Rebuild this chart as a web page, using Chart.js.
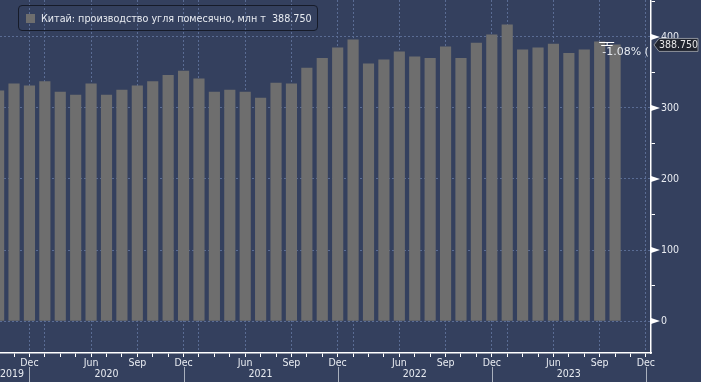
<!DOCTYPE html>
<html><head><meta charset="utf-8">
<script src="https://cdn.jsdelivr.net/npm/chart.js@4"></script>
<style>
html,body{margin:0;padding:0;background:#34405e;overflow:hidden;}
#wrap{position:relative;width:701px;height:382px;}
canvas{display:block;}
#legend{position:absolute;left:18px;top:5px;width:300px;height:26px;border:1px solid #161b29;border-radius:4px;
  font:10.7px "DejaVu Sans Condensed","DejaVu Sans",sans-serif;color:#e8ebf1;display:flex;align-items:center;box-sizing:border-box;white-space:pre;}
#legend .sw{width:9px;height:9px;background:#6e6e6e;margin-left:7px;margin-right:6px;flex:none;}
</style></head>
<body><div id="wrap"><canvas id="c" width="701" height="382"></canvas><div id="legend"><span class="sw"></span><span id="lt"></span></div></div>
<script>
const seriesName = 'Китай: производство угля помесячно, млн т';
const categories = ['Oct 2019','Nov 2019','Dec 2019',
 'Mar 2020','Apr 2020','May 2020','Jun 2020','Jul 2020','Aug 2020','Sep 2020','Oct 2020','Nov 2020','Dec 2020',
 'Mar 2021','Apr 2021','May 2021','Jun 2021','Jul 2021','Aug 2021','Sep 2021','Oct 2021','Nov 2021','Dec 2021',
 'Mar 2022','Apr 2022','May 2022','Jun 2022','Jul 2022','Aug 2022','Sep 2022','Oct 2022','Nov 2022','Dec 2022',
 'Mar 2023','Apr 2023','May 2023','Jun 2023','Jul 2023','Aug 2023','Sep 2023','Oct 2023','Nov 2023','Dec 2023'];
const coalOutput = [324,334,331,
 337,322.5,318,334,318,325,331,337,346,352,
 341,322.5,325,322.5,314,335,334,356,370,384.5,
 396,362,367.6,379,372,370,386,370,391.5,403,
 417,382,384.5,390,377,382,393,388.75];
const yTickValues = [0,50,100,150,200,250,300,350,400,450];
const labeledMonths = ['Jun','Sep','Dec'];
const gridMonths = ['Mar','Jun','Sep','Dec'];

const FONT = '"DejaVu Sans Condensed","DejaVu Sans",sans-serif';
const lastVal = coalOutput[coalOutput.length-1];
const prevVal = coalOutput[coalOutput.length-2];
const pct = (lastVal/prevVal-1)*100;
document.getElementById('lt').textContent = seriesName + '  ' + lastVal.toFixed(3);

const GRID = '#5a6c94';
const month = i => (categories[i]||'').split(' ')[0];

const decor = {
  id:'decor',
  afterDraw(chart){
    const {ctx, chartArea:a, scales:{x,y}} = chart;
    ctx.save();
    ctx.fillStyle = '#ffffff';
    yTickValues.filter(v=>v%100===0).forEach(v=>{
      const py = y.getPixelForValue(v);
      ctx.beginPath(); ctx.moveTo(a.right, py-3); ctx.lineTo(a.right+9, py); ctx.lineTo(a.right, py+3); ctx.closePath(); ctx.fill();
    });
    const decIdx = categories.map((c,i)=>month(i)==='Dec'?i:-1).filter(i=>i>=0);
    ctx.strokeStyle = '#a9b0bd'; ctx.lineWidth = 1;
    decIdx.forEach(i=>{
      const px = Math.round(x.getPixelForValue(i))+0.5;
      ctx.beginPath(); ctx.moveTo(px, 367); ctx.lineTo(px, 382); ctx.stroke();
    });
    ctx.font = '10.5px '+FONT; ctx.fillStyle = '#e8ebf1'; ctx.textBaseline='middle'; ctx.textAlign='center';
    decIdx.forEach((i,k)=>{
      const yr = categories[i].split(' ')[1];
      const r = x.getPixelForValue(i);
      const l = k>0 ? x.getPixelForValue(decIdx[k-1]) : x.getPixelForValue(i-10);
      const w = ctx.measureText(yr).width;
      let cx = (l+r)/2;
      if (cx - w/2 < a.left) cx = a.left + w/2;
      ctx.fillText(yr, cx, 374);
    });
    const n = coalOutput.length;
    const xp = x.getPixelForValue(n-2), yp = y.getPixelForValue(prevVal);
    ctx.strokeStyle = '#ffffff'; ctx.lineWidth = 1;
    ctx.beginPath(); ctx.moveTo(xp-0.5, Math.round(yp)+0.5); ctx.lineTo(xp+14.5, Math.round(yp)+0.5); ctx.stroke();
    ctx.beginPath(); ctx.moveTo(xp+1.5, Math.round(yp)+3.5); ctx.lineTo(xp+13, Math.round(yp)+3.5); ctx.stroke();
    ctx.beginPath(); ctx.moveTo(xp+7.5, Math.round(yp)+0.5); ctx.lineTo(xp+7.5, Math.round(yp)+3.5); ctx.stroke();
    const yl = y.getPixelForValue(lastVal);
    ctx.save();
    ctx.beginPath(); ctx.rect(a.left, a.top, a.right-a.left-1, a.bottom-a.top); ctx.clip();
    ctx.font = '11px "DejaVu Sans",sans-serif'; ctx.textAlign='left'; ctx.fillStyle='#e6eaf0';
    ctx.fillText(pct.toFixed(2)+'% (', xp+2.5, yl+7);
    ctx.restore();
    const bx = a.right+3;
    ctx.beginPath();
    ctx.moveTo(bx, yl); ctx.lineTo(bx+5, yl-6.5); ctx.lineTo(698, yl-6.5); ctx.lineTo(698, yl+6.5); ctx.lineTo(bx+5, yl+6.5); ctx.closePath();
    ctx.fillStyle = '#20242e'; ctx.fill();
    ctx.strokeStyle = '#8d929c'; ctx.lineWidth = 1; ctx.stroke();
    ctx.fillStyle = '#e6e6e6'; ctx.font = '10.5px '+FONT; ctx.textAlign='left'; ctx.textBaseline='middle';
    ctx.fillText(lastVal.toFixed(3), bx+5, yl+0.5);
    ctx.restore();
  }
};

new Chart(document.getElementById('c'), {
  type:'bar',
  data:{datasets:[{label:seriesName, data:coalOutput.map((v,i)=>({x:i,y:v})), backgroundColor:'#6e6e6e', borderWidth:0, barThickness:10.5, clip:0}]},
  options:{
    responsive:false, animation:false, devicePixelRatio:1,
    layout:{padding:0},
    plugins:{legend:{display:false}, tooltip:{enabled:false}},
    scales:{
      x:{type:'linear', min:0.09, max:42.33, offset:false,
        afterBuildTicks:s=>{ s.ticks = categories.map((c,i)=>({value:i})).filter(t=>t.value>=1); },
        afterFit:s=>{ s.height = 29; s.paddingLeft=0; s.paddingRight=0; },
        ticks:{autoSkip:false, maxRotation:0, minRotation:0, padding:0, color:'#e8ebf1', font:{family:FONT, size:10.5},
          callback:v=> labeledMonths.includes(month(v)) ? month(v) : ''},
        grid:{offset:false, color:c=> (c.tick && gridMonths.includes(month(c.tick.value))) ? GRID : 'rgba(0,0,0,0)',
          tickColor:'#ffffff', tickLength:4, lineWidth:1},
        border:{color:'#ffffff', width:1.5, dash:[2,2]}
      },
      y:{position:'right', min:-45, max:452,
        afterBuildTicks:s=>{ s.ticks = yTickValues.map(v=>({value:v})); },
        afterFit:s=>{ s.width = 50; s.paddingTop=0; s.paddingBottom=0; },
        ticks:{padding:6, color:'#e8ebf1', font:{family:FONT, size:10.5}, callback:v=> v%100===0 && v<=400 ? String(v) : ''},
        grid:{color:c=> (c.tick && c.tick.value%100===0 && c.tick.value<=400) ? GRID : 'rgba(0,0,0,0)',
          tickColor:c=> (c.tick && c.tick.value%100===0) ? 'rgba(0,0,0,0)' : '#ffffff', tickLength:4, lineWidth:1},
        border:{color:'#ffffff', width:1.5, dash:[2,2]}
      }
    }
  },
  plugins:[decor]
});
</script>
</body></html>
